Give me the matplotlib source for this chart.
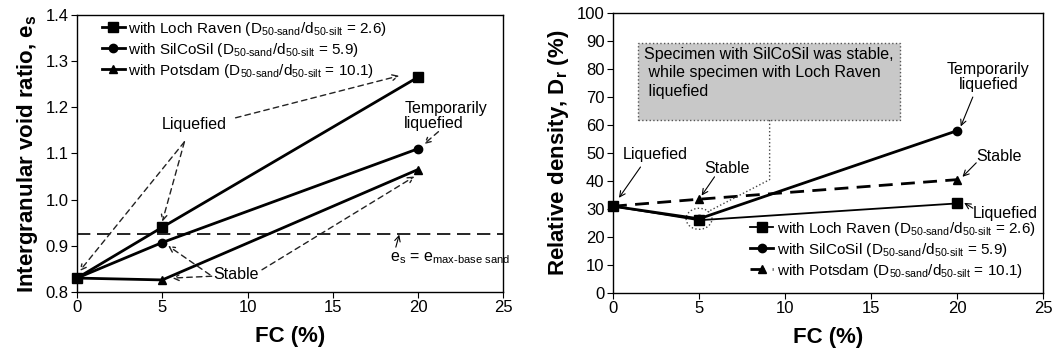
import matplotlib.pyplot as plt
from matplotlib.patches import Ellipse, FancyBboxPatch

plt.rcParams['font.family'] = ['Liberation Sans', 'DejaVu Sans']
plt.rcParams['mathtext.fontset'] = 'custom'
plt.rcParams['mathtext.rm'] = 'Liberation Sans'
plt.rcParams['mathtext.it'] = 'Liberation Sans'
plt.rcParams['mathtext.bf'] = 'Liberation Sans:bold'

fc = [0, 5, 20]

# intergranular void ratio e_s
es_loch = [0.83, 0.94, 1.265]
es_silco = [0.83, 0.907, 1.11]
es_pots = [0.83, 0.826, 1.065]
es_max_base = 0.925

# relative density Dr (%)
dr_loch = [31, 26, 32]
dr_silco = [31, 26.5, 58]
dr_pots = [31, 33.5, 40.5]

labels = [
    r"with Loch Raven (D$_{\mathregular{50‐sand}}$/d$_{\mathregular{50‐silt}}$ = 2.6)",
    r"with SilCoSil (D$_{\mathregular{50‐sand}}$/d$_{\mathregular{50‐silt}}$ = 5.9)",
    r"with Potsdam (D$_{\mathregular{50‐sand}}$/d$_{\mathregular{50‐silt}}$ = 10.1)",
]

fig = plt.figure(figsize=(10.55, 3.53), dpi=100)
ax1 = fig.add_axes([0.073, 0.173, 0.404, 0.785])
ax2 = fig.add_axes([0.581, 0.170, 0.408, 0.793])

for ax in (ax1, ax2):
    ax.tick_params(direction='out', labelsize=12, length=4, top=False, right=False, pad=2)
    for s in ax.spines.values():
        s.set_linewidth(1.0)
    ax.set_xlim(0, 25)
    ax.set_xticks([0, 5, 10, 15, 20, 25])
    ax.set_xlabel('FC (%)', fontsize=16, fontweight='bold', labelpad=8)

leg_kw = dict(frameon=False, fontsize=11, handlelength=1.5, labelspacing=0.2,
              handletextpad=0.25, borderaxespad=0.1)

# ---- left panel ----
ax1.plot(fc, es_loch, 'k-', marker='s', ms=7, lw=2, label=labels[0], clip_on=False)
ax1.plot(fc, es_silco, 'k-', marker='o', ms=6, lw=2, label=labels[1], clip_on=False)
ax1.plot(fc, es_pots, 'k-', marker='^', ms=6, lw=2, label=labels[2], clip_on=False)
ax1.axhline(es_max_base, color='k', ls=(0, (8, 4)), lw=1.2)
ax1.set_ylim(0.8, 1.4)
ax1.set_yticks([0.8, 0.9, 1.0, 1.1, 1.2, 1.3, 1.4])
ax1.set_yticklabels(['0.8', '0.9', '1.0', '1.1', '1.2', '1.3', '1.4'])
ax1.set_ylabel(r'Intergranular void ratio, e$_{\mathbf{s}}$', fontsize=16, fontweight='bold')
ax1.legend(loc='upper left', bbox_to_anchor=(0.04, 1.01), **leg_kw)

# dash pattern is scaled by lw for patches, so lengths are in lw units
dash = dict(arrowstyle='->', linestyle=(0, (4, 3)), lw=1.0, color='#222222',
            shrinkA=0, shrinkB=0)
ax1.text(6.9, 1.162, 'Liquefied', fontsize=11.5, ha='center', va='center')
ax1.annotate('', xy=(0.15, 0.845), xytext=(6.3, 1.125), arrowprops=dash)
ax1.annotate('', xy=(5.0, 0.952), xytext=(6.3, 1.125), arrowprops=dash)
ax1.annotate('', xy=(18.9, 1.268), xytext=(9.3, 1.177), arrowprops=dash)
ax1.text(9.35, 0.837, 'Stable', fontsize=11.5, ha='center', va='center')
ax1.annotate('', xy=(5.34, 0.9), xytext=(7.8, 0.837), arrowprops=dash)
ax1.annotate('', xy=(5.57, 0.83), xytext=(7.9, 0.834), arrowprops=dash)
ax1.annotate('', xy=(19.8, 1.05), xytext=(10.85, 0.848), arrowprops=dash)
ax1.text(19.2, 1.18, 'Temporarily\nliquefied', fontsize=11.5, ha='left', va='center',
         linespacing=1.0)
ax1.annotate('', xy=(20.35, 1.12), xytext=(21.2, 1.147), arrowprops=dash)
ax1.text(21.9, 0.874, r'e$_{\mathregular{s}}$ = e$_{\mathregular{max‐base\ sand}}$', fontsize=11.5,
         ha='center', va='center')
ax1.annotate('', xy=(18.9, 0.924), xytext=(18.7, 0.897),
             arrowprops=dict(arrowstyle='->', lw=0.8, color='k', shrinkA=0, shrinkB=0))

# ---- right panel ----
ax2.plot(fc, dr_loch, 'k-', marker='s', ms=7, lw=1.3, label=labels[0], clip_on=False)
ax2.plot(fc, dr_silco, 'k-', marker='o', ms=6, lw=2, label=labels[1], clip_on=False)
ax2.plot(fc, dr_pots, 'k', ls=(0, (5, 3)), marker='^', ms=6, lw=2, label=labels[2], clip_on=False)
ax2.set_ylim(0, 100)
ax2.set_yticks(range(0, 101, 10))
ax2.set_ylabel(r'Relative density, D$_{\mathbf{r}}$ (%)', fontsize=16, fontweight='bold')
ax2.legend(loc='lower right', bbox_to_anchor=(1.0, 0.02), **leg_kw)

solid = dict(arrowstyle='->', lw=0.8, color='k', shrinkA=0, shrinkB=0)
box = FancyBboxPatch((1.45, 61.8), 15.25, 27.5, boxstyle='square,pad=0', fc='#c8c8c8',
                     ec='#555555', ls=':', lw=1.0)
ax2.add_patch(box)
ax2.text(1.8, 88.0, 'Specimen with SilCoSil was stable,\n while specimen with Loch Raven\n liquefied',
         fontsize=11.5, ha='left', va='top', linespacing=1.3)
ax2.plot([9.1, 9.1, 5.5], [61.8, 40.5, 29], color='#444444', ls=':', lw=1.0)
ax2.add_patch(Ellipse((5.0, 26.5), 1.5, 7.5, fill=False, ec='#444444', ls=':', lw=1.0))
ax2.text(2.45, 49.3, 'Liquefied', fontsize=11.5, ha='center', va='center')
ax2.annotate('', xy=(0.35, 34), xytext=(1.6, 45), arrowprops=solid)
ax2.text(6.6, 44.5, 'Stable', fontsize=11.5, ha='center', va='center')
ax2.annotate('', xy=(5.15, 34.8), xytext=(5.9, 41.5), arrowprops=solid)
ax2.text(21.8, 77, 'Temporarily\nliquefied', fontsize=11.5, ha='center', va='center',
         linespacing=1.0)
ax2.annotate('', xy=(20.2, 59.5), xytext=(20.9, 70), arrowprops=solid)
ax2.text(22.4, 48.6, 'Stable', fontsize=11.5, ha='center', va='center')
ax2.annotate('', xy=(20.3, 41.5), xytext=(21.1, 46.5), arrowprops=solid)
ax2.text(22.8, 28.3, 'Liquefied', fontsize=11.5, ha='center', va='center')
ax2.annotate('', xy=(20.4, 32.2), xytext=(20.9, 30.3), arrowprops=solid)

fig.savefig('out.png', dpi=100)
